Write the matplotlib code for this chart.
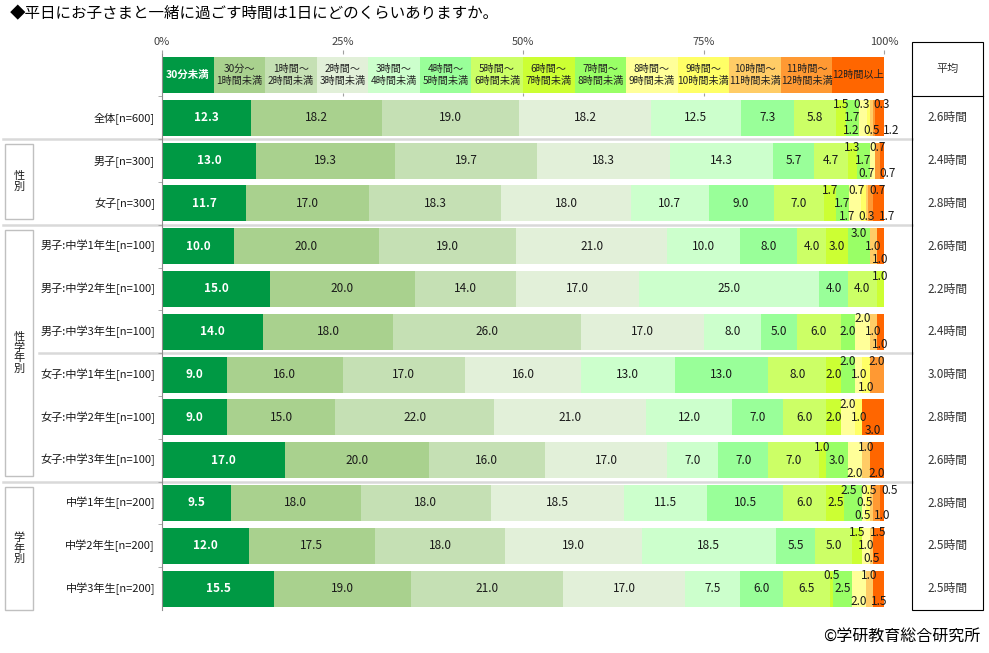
import matplotlib.pyplot as plt
from matplotlib.patches import Rectangle
from matplotlib.transforms import blended_transform_factory

plt.rcParams['font.family'] = ['Noto Sans CJK JP', 'DejaVu Sans']

title = '◆平日にお子さまと一緒に過ごす時間は1日にどのくらいありますか。'
credit = '©学研教育総合研究所'

categories = ['30分未満', '30分～\n1時間未満', '1時間～\n2時間未満', '2時間～\n3時間未満',
              '3時間～\n4時間未満', '4時間～\n5時間未満', '5時間～\n6時間未満', '6時間～\n7時間未満',
              '7時間～\n8時間未満', '8時間～\n9時間未満', '9時間～\n10時間未満', '10時間～\n11時間未満',
              '11時間～\n12時間未満', '12時間以上']

row_labels = ['全体[n=600]', '男子[n=300]', '女子[n=300]',
              '男子:中学1年生[n=100]', '男子:中学2年生[n=100]', '男子:中学3年生[n=100]',
              '女子:中学1年生[n=100]', '女子:中学2年生[n=100]', '女子:中学3年生[n=100]',
              '中学1年生[n=200]', '中学2年生[n=200]', '中学3年生[n=200]']

zentai = [12.3, 18.2, 19.0, 18.2, 12.5, 7.3, 5.8, 1.5, 1.7, 1.2, 0.3, 0.5, 0.3, 1.2]
danshi = [13.0, 19.3, 19.7, 18.3, 14.3, 5.7, 4.7, 1.3, 1.7, 0.7, 0, 0, 0.7, 0.7]
joshi = [11.7, 17.0, 18.3, 18.0, 10.7, 9.0, 7.0, 1.7, 1.7, 1.7, 0.7, 0.3, 0.7, 1.7]
boys_g1 = [10.0, 20.0, 19.0, 21.0, 10.0, 8.0, 4.0, 3.0, 3.0, 0, 0, 1.0, 0, 1.0]
boys_g2 = [15.0, 20.0, 14.0, 17.0, 25.0, 4.0, 4.0, 1.0, 0, 0, 0, 0, 0, 0]
boys_g3 = [14.0, 18.0, 26.0, 17.0, 8.0, 5.0, 6.0, 0, 2.0, 2.0, 0, 1.0, 0, 1.0]
girls_g1 = [9.0, 16.0, 17.0, 16.0, 13.0, 13.0, 8.0, 2.0, 2.0, 1.0, 1.0, 0, 2.0, 0]
girls_g2 = [9.0, 15.0, 22.0, 21.0, 12.0, 7.0, 6.0, 2.0, 0, 2.0, 1.0, 0, 0, 3.0]
girls_g3 = [17.0, 20.0, 16.0, 17.0, 7.0, 7.0, 7.0, 1.0, 3.0, 2.0, 0, 1.0, 0, 2.0]
grade1 = [9.5, 18.0, 18.0, 18.5, 11.5, 10.5, 6.0, 2.5, 2.5, 0.5, 0.5, 0.5, 1.0, 0.5]
grade2 = [12.0, 17.5, 18.0, 19.0, 18.5, 5.5, 5.0, 1.5, 0, 1.0, 0, 0.5, 0, 1.5]
grade3 = [15.5, 19.0, 21.0, 17.0, 7.5, 6.0, 6.5, 0.5, 2.5, 2.0, 0, 1.0, 0, 1.5]

averages = [2.6, 2.4, 2.8, 2.6, 2.2, 2.4, 3.0, 2.8, 2.6, 2.8, 2.5, 2.5]

rows = [zentai, danshi, joshi, boys_g1, boys_g2, boys_g3,
        girls_g1, girls_g2, girls_g3, grade1, grade2, grade3]

# groups: label, first row, last row (1-based row positions, header is 0)
groups = [('性\n別', 2, 3), ('性\n学\n年\n別', 4, 9), ('学\n年\n別', 10, 12)]

colors = ['#009944', '#a9d18e', '#c5e0b4', '#e2f0d9', '#ccffcc', '#99ff99', '#ccff66',
          '#ccff33', '#99ff66', '#ffff99', '#ffff66', '#ffcc66', '#ff9933', '#ff6600']

W, H = 989, 653
fig = plt.figure(figsize=(W / 100, H / 100), dpi=100)

ax_l, ax_r = 162, 884
row0_px, step = 75, 42.8
n = len(rows)
y_top, y_bot = -0.5, n + 0.5
px_top = row0_px + step * y_top
px_bot = row0_px + step * y_bot
ax = fig.add_axes([ax_l / W, 1 - px_bot / H, (ax_r - ax_l) / W, (px_bot - px_top) / H])
ax.set_xlim(0, 100)
ax.set_ylim(y_bot, y_top)
tr = blended_transform_factory(fig.transFigure, ax.transData)
bar_h = 0.84

# header row doubles as the legend
hw = 100 / len(categories)
ax.barh([0] * len(categories), [hw] * len(categories),
        left=[k * hw for k in range(len(categories))],
        height=bar_h, color=colors, linewidth=0)
for k, cat in enumerate(categories):
    if k == 0:
        ax.text(hw / 2, 0, cat, ha='center', va='center', fontsize=7.5,
                color='white', fontweight='bold')
    else:
        ax.text(k * hw + hw / 2, 0, cat, ha='center', va='center', fontsize=7.3,
                color='#222222', linespacing=1.3)


def spread(xs, gap=2.8):
    xs = list(xs)
    for _ in range(60):
        for i in range(len(xs) - 1):
            d = xs[i + 1] - xs[i]
            if d < gap:
                m = (gap - d) / 2
                xs[i] -= m
                xs[i + 1] += m
    return xs


D = 3.45
for r, vals in enumerate(rows):
    y = r + 1
    lefts = [sum(vals[:k]) for k in range(len(vals))]
    ax.barh([y] * len(vals), vals, left=lefts, height=bar_h, color=colors, linewidth=0)

    # value labels: centred while there is room, then staggered top/middle/bottom
    slots = {'t': [], 'm': [], 'b': []}
    last_mid = -99
    tail = False
    mid_used = False
    cycle = ['t', 'm', 'b']
    p = 0
    for k, v in enumerate(vals):
        if v == 0:
            continue
        c = lefts[k] + v / 2
        if not tail and v >= 2 and c - last_mid >= D:
            s = 'm'
        else:
            tail = True
            for j in range(3):
                s = cycle[(p + j) % 3]
                if s == 'm' and (mid_used or c - last_mid < D):
                    continue
                break
            p = (cycle.index(s) + 1) % 3
            if s == 'm':
                mid_used = True
        if s == 'm':
            last_mid = c
        slots[s].append((c, k, v))

    offs = {'t': -0.3, 'm': 0.0, 'b': 0.3}
    for s, items in slots.items():
        xs = [it[0] for it in items]
        if s != 'm':
            xs = spread(xs)
        for x, (c, k, v) in zip(xs, items):
            if k == 0:
                ax.text(x, y, f'{v:.1f}', ha='center', va='center', fontsize=8.5,
                        color='white', fontweight='bold')
            else:
                ax.text(x, y + offs[s], f'{v:.1f}', ha='center', va='center',
                        fontsize=8.5, color='#1a1a1a')

    ax.text(155 / W, y, row_labels[r], transform=tr, ha='right', va='center',
            fontsize=8, color='#1a1a1a')
    ax.text(947.5 / W, y, f'{averages[r]:.1f}時間', transform=tr, ha='center',
            va='center', fontsize=8.5, color='#333333')

# axes styling
ax.xaxis.tick_top()
ax.set_xticks([0, 25, 50, 75, 100])
ax.set_xticklabels(['0%', '25%', '50%', '75%', '100%'])
ax.tick_params(axis='x', length=3, color='#a0a0a0', labelsize=8,
               labelcolor='#404040', pad=2)
ax.set_yticks([])
ax.set_yticks([i + 0.5 for i in range(n)], minor=True)
ax.tick_params(axis='y', which='minor', length=3, color='#a0a0a0')
for side in ['top', 'right', 'bottom']:
    ax.spines[side].set_visible(False)
ax.spines['left'].set_color('#8c8c8c')
ax.spines['left'].set_linewidth(0.8)
ax.vlines([25, 50, 75], bar_h / 2, 0.5, color='#a0a0a0', lw=0.8)

# separators between groups
seps = [(1.5, 3)] + [(g[1] - 0.5, 3) for g in groups[1:]] + [(6.5, 39)]
for b, x0 in seps:
    ax.plot([x0 / W, 912 / W], [b, b], transform=tr, color='#d9d9d9', lw=1.8,
            clip_on=False, zorder=0)

# group boxes
for lab, r0, r1 in groups:
    top = r0 - 0.5 + 0.12
    bot = r1 + 0.5 - 0.14 if r1 < n else r1 + 0.5
    ax.add_patch(Rectangle((5 / W, top), 28 / W, bot - top, transform=tr, fill=False,
                           ec='#c0c0c0', lw=1, clip_on=False))
    ax.text(19 / W, (top + bot) / 2, lab, transform=tr, ha='center', va='center',
            fontsize=8, color='#1a1a1a', linespacing=1.05)

# average column
box_top = y_top - (px_top - 42) / step
ax.add_patch(Rectangle((912 / W, box_top), 71 / W, y_bot - box_top, transform=tr,
                       fill=False, ec='black', lw=0.8, clip_on=False))
ax.plot([912 / W, 983 / W], [0.5, 0.5], transform=tr, color='black', lw=0.8,
        clip_on=False)
ax.text(947.5 / W, (box_top + 0.5) / 2, '平均', transform=tr, ha='center',
        va='center', fontsize=8, color='#333333')

fig.text(10 / W, 1 - 14 / H, title, ha='left', va='center', fontsize=11.2, color='black')
fig.text(980 / W, 1 - 636 / H, credit, ha='right', va='center', fontsize=11.5,
         color='black')

fig.savefig('out.png', dpi=100)
